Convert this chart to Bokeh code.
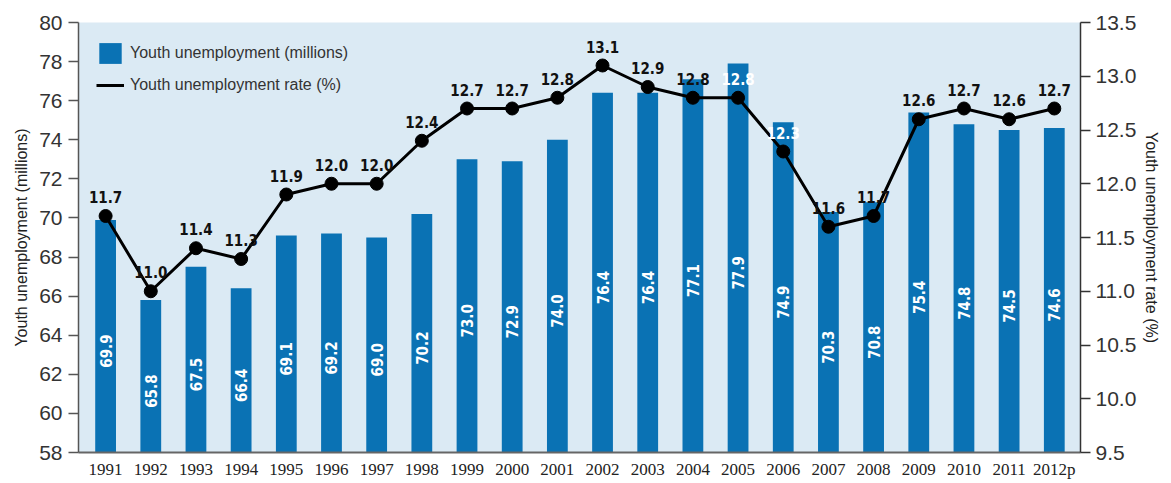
import numpy as np
from bokeh.plotting import figure
from bokeh.models import (Range1d, LinearAxis, FixedTicker, ColumnDataSource,
                          Legend, LegendItem, NumeralTickFormatter)
from bokeh.core.properties import value
from bokeh.embed import file_html
from bokeh.resources import INLINE

years = ["1991", "1992", "1993", "1994", "1995", "1996", "1997", "1998", "1999",
         "2000", "2001", "2002", "2003", "2004", "2005", "2006", "2007", "2008",
         "2009", "2010", "2011", "2012p"]
youth_unemp = [69.9, 65.8, 67.5, 66.4, 69.1, 69.2, 69.0, 70.2, 73.0, 72.9, 74.0,
               76.4, 76.4, 77.1, 77.9, 74.9, 70.3, 70.8, 75.4, 74.8, 74.5, 74.6]
youth_rate = [11.7, 11.0, 11.4, 11.3, 11.9, 12.0, 12.0, 12.4, 12.7, 12.7, 12.8,
              13.1, 12.9, 12.8, 12.8, 12.3, 11.6, 11.7, 12.6, 12.7, 12.6, 12.7]
left_ticks = [58, 60, 62, 64, 66, 68, 70, 72, 74, 76, 78, 80]
right_ticks = [9.5, 10.0, 10.5, 11.0, 11.5, 12.0, 12.5, 13.0, 13.5]

x = list(range(len(years)))
Y0, Y1 = 58, 80
R0, R1 = 9.5, 13.5

COND = "DejaVu Sans Condensed, Roboto, sans-serif"
SANS = "Liberation Sans"

p = figure(width=1163, height=481, output_backend="svg", toolbar_location=None,
           x_range=Range1d(-0.6, 21.58), y_range=Range1d(Y0, Y1),
           min_border_left=78, min_border_right=79, min_border_top=22,
           min_border_bottom=27)
p.background_fill_color = "#dbeaf4"
p.border_fill_color = "white"
p.outline_line_color = None
p.xgrid.visible = False
p.ygrid.visible = False
p.extra_y_ranges = {"rate": Range1d(R0, R1)}

bar_src = ColumnDataSource(dict(
    x=x, v=youth_unemp,
    ly=[(Y0 + v) / 2 - 0.76 for v in youth_unemp],
    lt=[f"{v:.1f}" for v in youth_unemp]))
bars = p.vbar(x="x", top="v", bottom=Y0, width=0.46, source=bar_src,
              fill_color="#0a72b4", line_color=None)
p.text(x="x", y="ly", text="lt", source=bar_src, angle=np.pi / 2,
       text_align="center", text_baseline="middle", text_color="white",
       text_font=value(COND), text_font_style="bold", text_font_size="15px")

rate_src = ColumnDataSource(dict(
    x=x, r=youth_rate, lt=[f"{r:.1f}" for r in youth_rate],
    c=["white" if y in ("2005", "2006") else "#111111" for y in years]))
line = p.line(x="x", y="r", source=rate_src, y_range_name="rate",
              line_color="black", line_width=3)
p.scatter(x="x", y="r", source=rate_src, y_range_name="rate", size=13,
          fill_color="black", line_color="black")
p.text(x="x", y="r", text="lt", source=rate_src, y_range_name="rate",
       y_offset=-19, text_align="center", text_baseline="middle",
       text_color="c", text_font=value(COND), text_font_style="bold",
       text_font_size="15px")

# bottom axis
xa = p.xaxis[0]
xa.ticker = FixedTicker(ticks=x)
xa.major_label_overrides = {i: y for i, y in enumerate(years)}
xa.major_tick_out = 0
xa.major_tick_in = 0
xa.minor_tick_line_color = None
xa.axis_line_color = "#666666"
xa.axis_line_width = 2
xa.major_label_standoff = 7
xa.major_label_text_font = "Liberation Serif"
xa.major_label_text_font_size = "17px"
xa.major_label_text_color = "#222222"

# left axis
ya = p.yaxis[0]
ya.ticker = FixedTicker(ticks=left_ticks)
ya.major_tick_out = 10
ya.major_tick_in = 0
ya.minor_tick_line_color = None
ya.axis_line_color = "#555555"
ya.major_tick_line_color = "#555555"
ya.axis_line_width = 1.5
ya.major_tick_line_width = 1.5
ya.major_label_standoff = 6
ya.major_label_text_font = SANS
ya.major_label_text_font_size = "21px"
ya.major_label_text_color = "#333333"
ya.axis_label = "Youth unemployment (millions)"
ya.axis_label_text_font = SANS
ya.axis_label_text_font_size = "16px"
ya.axis_label_text_font_style = "normal"
ya.axis_label_text_color = "#222222"
ya.axis_label_standoff = 6

# right axis
ra = LinearAxis(y_range_name="rate", ticker=FixedTicker(ticks=right_ticks),
                formatter=NumeralTickFormatter(format="0.0"))
ra.major_tick_out = 10
ra.major_tick_in = 0
ra.minor_tick_line_color = None
ra.axis_line_color = "#333333"
ra.major_tick_line_color = "#333333"
ra.axis_line_width = 1.5
ra.major_tick_line_width = 1.5
ra.major_label_standoff = 5
ra.major_label_text_font = SANS
ra.major_label_text_font_size = "21px"
ra.major_label_text_color = "#333333"
ra.axis_label = "Youth unemployment rate (%)"
ra.axis_label_text_font = SANS
ra.axis_label_text_font_size = "16px"
ra.axis_label_text_font_style = "normal"
ra.axis_label_text_color = "#222222"
ra.axis_label_standoff = 4
p.add_layout(ra, "right")

legend = Legend(items=[
    LegendItem(label="Youth unemployment (millions)", renderers=[bars]),
    LegendItem(label="Youth unemployment rate (%)", renderers=[line]),
], location="top_left")
legend.background_fill_alpha = 0
legend.border_line_alpha = 0
legend.margin = 8
legend.padding = 10
legend.glyph_width = 28
legend.glyph_height = 26
legend.spacing = 6
legend.label_standoff = 6
legend.label_text_font = SANS
legend.label_text_font_size = "16px"
legend.label_text_color = "#333333"
p.add_layout(legend)

open("out.html", "w").write(file_html(p, INLINE))
